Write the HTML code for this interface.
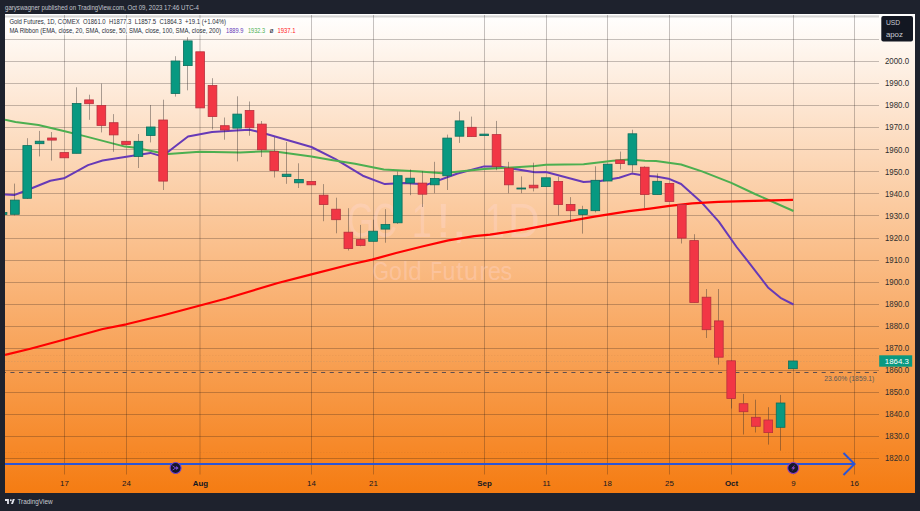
<!DOCTYPE html>
<html><head><meta charset="utf-8"><style>
html,body{margin:0;padding:0;width:920px;height:511px;overflow:hidden;background:#1e222d;}
svg text{font-family:"Liberation Sans", sans-serif;}
.box{position:absolute;}
</style></head><body>
<div style="position:relative;width:920px;height:511px">
<svg width="920" height="511" viewBox="0 0 920 511" style="position:absolute;left:0;top:0"><defs><linearGradient id="bg" x1="0" y1="0" x2="0" y2="1"><stop offset="0" stop-color="#ffffff"/><stop offset="1" stop-color="#f57c12"/></linearGradient><clipPath id="pc"><rect x="5" y="15" width="874" height="459.5"/></clipPath></defs><rect x="5" y="14" width="910" height="479" fill="url(#bg)"/><rect x="5" y="15.4" width="874" height="2.1" fill="rgba(0,0,0,0.16)"/><path d="M5 39.5H879M5 61.5H879M5 83.5H879M5 105.5H879M5 127.5H879M5 149.5H879M5 171.5H879M5 193.5H879M5 215.5H879M5 238.5H879M5 260.5H879M5 282.5H879M5 304.5H879M5 326.5H879M5 348.5H879M5 370.5H879M5 392.5H879M5 414.5H879M5 436.5H879M5 458.5H879M64.5 15V474.5M126.5 15V474.5M200.0 15V474.5M311.5 15V474.5M373.5 15V474.5M484.5 15V474.5M546.5 15V474.5M607.5 15V474.5M669.5 15V474.5M731.5 15V474.5M793.5 15V474.5M854.5 15V474.5" stroke="rgba(30,25,25,0.26)" stroke-width="1" fill="none"/><rect x="7" y="18" width="222" height="8.5" fill="rgba(255,255,255,0.55)"/><rect x="7" y="26.5" width="292" height="8.5" fill="rgba(255,255,255,0.55)"/><g clip-path="url(#pc)"><text transform="translate(347.56,237) scale(0.72,1)" font-size="48" fill="rgba(255,215,210,0.36)" font-family="Liberation Sans, sans-serif">G</text><text transform="translate(372.58,237) scale(0.71,1)" font-size="48" fill="rgba(255,215,210,0.36)" font-family="Liberation Sans, sans-serif">C</text><text transform="translate(412.00,237) scale(0.75,1)" font-size="48" fill="rgba(255,215,210,0.36)" font-family="Liberation Sans, sans-serif">1</text><text transform="translate(436.10,237) scale(1.1,1)" font-size="48" fill="rgba(255,215,210,0.36)" font-family="Liberation Sans, sans-serif">!</text><text transform="translate(451.20,237) scale(1.2,1)" font-size="48" fill="rgba(255,215,210,0.36)" font-family="Liberation Sans, sans-serif">,</text><text transform="translate(485.00,237) scale(0.75,1)" font-size="48" fill="rgba(255,215,210,0.36)" font-family="Liberation Sans, sans-serif">1</text><text transform="translate(508.36,237) scale(0.91,1)" font-size="48" fill="rgba(255,215,210,0.36)" font-family="Liberation Sans, sans-serif">D</text><text transform="translate(372.57,280.3) scale(0.84,1)" font-size="25.3" fill="rgba(255,215,210,0.36)" font-family="Liberation Sans, sans-serif">G</text><text transform="translate(389.09,280.3) scale(0.92,1)" font-size="25.3" fill="rgba(255,215,210,0.36)" font-family="Liberation Sans, sans-serif">o</text><text transform="translate(402.63,280.3) scale(1.0,1)" font-size="25.3" fill="rgba(255,215,210,0.36)" font-family="Liberation Sans, sans-serif">l</text><text transform="translate(408.16,280.3) scale(0.96,1)" font-size="25.3" fill="rgba(255,215,210,0.36)" font-family="Liberation Sans, sans-serif">d</text><text transform="translate(430.50,280.3) scale(0.76,1)" font-size="25.3" fill="rgba(255,215,210,0.36)" font-family="Liberation Sans, sans-serif">F</text><text transform="translate(442.39,280.3) scale(0.92,1)" font-size="25.3" fill="rgba(255,215,210,0.36)" font-family="Liberation Sans, sans-serif">u</text><text transform="translate(456.00,280.3) scale(1.05,1)" font-size="25.3" fill="rgba(255,215,210,0.36)" font-family="Liberation Sans, sans-serif">t</text><text transform="translate(464.03,280.3) scale(1.0,1)" font-size="25.3" fill="rgba(255,215,210,0.36)" font-family="Liberation Sans, sans-serif">u</text><text transform="translate(479.17,280.3) scale(1.08,1)" font-size="25.3" fill="rgba(255,215,210,0.36)" font-family="Liberation Sans, sans-serif">r</text><text transform="translate(487.89,280.3) scale(0.92,1)" font-size="25.3" fill="rgba(255,215,210,0.36)" font-family="Liberation Sans, sans-serif">e</text><text transform="translate(500.59,280.3) scale(0.92,1)" font-size="25.3" fill="rgba(255,215,210,0.36)" font-family="Liberation Sans, sans-serif">s</text><path d="M5 452.5H877M5 355.5H877" stroke="rgba(60,40,30,0.05)" stroke-width="1" stroke-dasharray="1.5 1.5"/><path d="M5 361.5H877" stroke="rgba(120,130,130,0.16)" stroke-width="1" stroke-dasharray="1.5 1.5"/><path d="M5 372.5H877" stroke="rgba(55,60,80,0.8)" stroke-width="1.1" stroke-dasharray="4.1 4.53" stroke-dashoffset="3.23"/><polyline points="5.0,194.5 14.7,194.9 22.4,192.0 50.3,180.8 63.9,178.3 88.0,165.1 102.6,160.5 120.0,157.8 150.4,152.9 158.7,155.4 168.2,151.8 188.0,136.5 212.0,131.9 240.0,130.2 249.7,129.8 256.0,131.3 266.4,134.0 311.4,147.0 335.5,159.1 362.8,175.7 384.8,184.1 404.7,183.0 427.6,184.4 456.9,173.7 484.1,166.4 498.8,166.4 535.0,172.2 546.0,172.0 583.6,182.0 600.4,181.0 619.2,177.8 631.8,173.6 645.0,175.7 656.0,176.6 668.5,178.7 681.1,184.0 702.0,202.8 718.8,221.7 736.6,247.0 747.0,260.1 768.0,287.4 780.5,297.8 793.5,304.5" fill="none" stroke="#673ab7" stroke-width="2" stroke-linejoin="round"/><polyline points="5.0,119.8 15.5,121.9 38.5,125.0 64.7,131.3 84.6,136.1 125.0,146.6 133.6,147.6 157.7,152.2 168.2,153.9 199.6,151.8 240.0,152.6 266.4,151.2 276.9,151.8 311.4,156.6 331.4,160.0 355.0,163.7 383.8,169.4 420.0,171.5 442.2,173.3 484.1,169.1 535.0,166.0 546.0,164.8 583.6,164.2 613.0,160.7 629.7,159.4 645.0,160.7 656.0,160.9 681.1,164.5 702.0,171.4 731.3,182.9 755.0,194.0 793.5,211.0" fill="none" stroke="#4caf50" stroke-width="2" stroke-linejoin="round"/><polyline points="5.0,355.0 30.4,348.7 63.7,339.8 102.8,329.0 126.3,324.3 161.5,315.8 185.0,309.5 226.3,298.5 277.9,283.0 311.4,274.4 350.2,264.5 372.0,259.6 396.1,253.0 422.2,246.5 448.3,240.4 474.3,236.1 490.0,234.7 524.8,229.4 559.6,222.8 594.3,216.7 629.1,211.2 650.0,208.6 669.6,205.9 692.2,203.3 718.3,201.9 744.3,201.2 793.0,199.8" fill="none" stroke="#ff0000" stroke-width="2.2" stroke-linejoin="round"/><rect x="2" y="212.5" width="1" height="2.0" fill="rgba(50,45,45,0.42)"/><rect x="-1.80" y="212.5" width="8.7" height="2.0" fill="#089981" stroke="#0b6e5c" stroke-width="0.8"/><rect x="14" y="183.6" width="1" height="31.8" fill="rgba(50,45,45,0.42)"/><rect x="10.55" y="200.1" width="8.7" height="14.2" fill="#089981" stroke="#0b6e5c" stroke-width="0.8"/><rect x="27" y="138.2" width="1" height="60.8" fill="rgba(50,45,45,0.42)"/><rect x="22.90" y="145.6" width="8.7" height="52.7" fill="#089981" stroke="#0b6e5c" stroke-width="0.8"/><rect x="39" y="130.9" width="1" height="25.5" fill="rgba(50,45,45,0.42)"/><rect x="35.25" y="141.2" width="8.7" height="2.5" fill="#089981" stroke="#0b6e5c" stroke-width="0.8"/><rect x="51" y="132.0" width="1" height="28.6" fill="rgba(50,45,45,0.42)"/><rect x="47.60" y="138.0" width="8.7" height="2.1" fill="#f23645" stroke="#b8303c" stroke-width="0.8"/><rect x="64" y="152.6" width="1" height="5.2" fill="rgba(50,45,45,0.42)"/><rect x="59.95" y="152.6" width="8.7" height="5.2" fill="#f23645" stroke="#b8303c" stroke-width="0.8"/><rect x="76" y="87.3" width="1" height="66.0" fill="rgba(50,45,45,0.42)"/><rect x="72.30" y="103.5" width="8.7" height="49.8" fill="#089981" stroke="#0b6e5c" stroke-width="0.8"/><rect x="89" y="94.7" width="1" height="25.1" fill="rgba(50,45,45,0.42)"/><rect x="84.65" y="99.9" width="8.7" height="3.8" fill="#f23645" stroke="#b8303c" stroke-width="0.8"/><rect x="101" y="83.6" width="1" height="48.8" fill="rgba(50,45,45,0.42)"/><rect x="97.00" y="105.5" width="8.7" height="19.9" fill="#f23645" stroke="#b8303c" stroke-width="0.8"/><rect x="113" y="114.1" width="1" height="37.7" fill="rgba(50,45,45,0.42)"/><rect x="109.35" y="122.7" width="8.7" height="12.2" fill="#f23645" stroke="#b8303c" stroke-width="0.8"/><rect x="126" y="141.3" width="1" height="3.2" fill="rgba(50,45,45,0.42)"/><rect x="121.70" y="141.3" width="8.7" height="3.2" fill="#f23645" stroke="#b8303c" stroke-width="0.8"/><rect x="138" y="134.0" width="1" height="34.0" fill="rgba(50,45,45,0.42)"/><rect x="134.05" y="141.3" width="8.7" height="15.1" fill="#089981" stroke="#0b6e5c" stroke-width="0.8"/><rect x="150" y="105.0" width="1" height="37.4" fill="rgba(50,45,45,0.42)"/><rect x="146.40" y="127.0" width="8.7" height="8.5" fill="#089981" stroke="#0b6e5c" stroke-width="0.8"/><rect x="163" y="99.7" width="1" height="90.3" fill="rgba(50,45,45,0.42)"/><rect x="158.75" y="120.0" width="8.7" height="61.1" fill="#f23645" stroke="#b8303c" stroke-width="0.8"/><rect x="175" y="56.2" width="1" height="40.4" fill="rgba(50,45,45,0.42)"/><rect x="171.10" y="61.0" width="8.7" height="32.5" fill="#089981" stroke="#0b6e5c" stroke-width="0.8"/><rect x="187" y="37.3" width="1" height="53.0" fill="rgba(50,45,45,0.42)"/><rect x="183.45" y="40.9" width="8.7" height="24.7" fill="#089981" stroke="#0b6e5c" stroke-width="0.8"/><rect x="200" y="51.8" width="1" height="56.1" fill="rgba(50,45,45,0.42)"/><rect x="195.80" y="51.8" width="8.7" height="56.1" fill="#f23645" stroke="#b8303c" stroke-width="0.8"/><rect x="212" y="78.2" width="1" height="51.3" fill="rgba(50,45,45,0.42)"/><rect x="208.15" y="85.5" width="8.7" height="31.0" fill="#f23645" stroke="#b8303c" stroke-width="0.8"/><rect x="224" y="117.5" width="1" height="22.2" fill="rgba(50,45,45,0.42)"/><rect x="220.50" y="125.7" width="8.7" height="4.3" fill="#f23645" stroke="#b8303c" stroke-width="0.8"/><rect x="237" y="96.3" width="1" height="65.1" fill="rgba(50,45,45,0.42)"/><rect x="232.85" y="114.1" width="8.7" height="14.0" fill="#089981" stroke="#0b6e5c" stroke-width="0.8"/><rect x="249" y="101.5" width="1" height="34.2" fill="rgba(50,45,45,0.42)"/><rect x="245.20" y="110.5" width="8.7" height="17.2" fill="#f23645" stroke="#b8303c" stroke-width="0.8"/><rect x="261" y="121.0" width="1" height="36.0" fill="rgba(50,45,45,0.42)"/><rect x="257.55" y="124.1" width="8.7" height="25.6" fill="#f23645" stroke="#b8303c" stroke-width="0.8"/><rect x="274" y="137.1" width="1" height="40.4" fill="rgba(50,45,45,0.42)"/><rect x="269.90" y="151.4" width="8.7" height="19.2" fill="#f23645" stroke="#b8303c" stroke-width="0.8"/><rect x="286" y="142.0" width="1" height="41.8" fill="rgba(50,45,45,0.42)"/><rect x="282.25" y="174.2" width="8.7" height="2.3" fill="#089981" stroke="#0b6e5c" stroke-width="0.8"/><rect x="298" y="163.3" width="1" height="24.7" fill="rgba(50,45,45,0.42)"/><rect x="294.60" y="179.4" width="8.7" height="3.4" fill="#089981" stroke="#0b6e5c" stroke-width="0.8"/><rect x="311" y="181.4" width="1" height="3.4" fill="rgba(50,45,45,0.42)"/><rect x="306.95" y="181.4" width="8.7" height="3.4" fill="#f23645" stroke="#b8303c" stroke-width="0.8"/><rect x="323" y="184.1" width="1" height="37.1" fill="rgba(50,45,45,0.42)"/><rect x="319.30" y="195.2" width="8.7" height="9.4" fill="#f23645" stroke="#b8303c" stroke-width="0.8"/><rect x="336" y="197.7" width="1" height="35.6" fill="rgba(50,45,45,0.42)"/><rect x="331.65" y="209.2" width="8.7" height="10.5" fill="#f23645" stroke="#b8303c" stroke-width="0.8"/><rect x="348" y="208.2" width="1" height="42.3" fill="rgba(50,45,45,0.42)"/><rect x="344.00" y="232.2" width="8.7" height="16.4" fill="#f23645" stroke="#b8303c" stroke-width="0.8"/><rect x="360" y="224.9" width="1" height="21.4" fill="rgba(50,45,45,0.42)"/><rect x="356.35" y="239.6" width="8.7" height="5.8" fill="#f23645" stroke="#b8303c" stroke-width="0.8"/><rect x="373" y="219.7" width="1" height="21.6" fill="rgba(50,45,45,0.42)"/><rect x="368.70" y="231.2" width="8.7" height="10.1" fill="#089981" stroke="#0b6e5c" stroke-width="0.8"/><rect x="385" y="209.2" width="1" height="33.5" fill="rgba(50,45,45,0.42)"/><rect x="381.05" y="224.5" width="8.7" height="4.6" fill="#089981" stroke="#0b6e5c" stroke-width="0.8"/><rect x="397" y="171.5" width="1" height="52.4" fill="rgba(50,45,45,0.42)"/><rect x="393.40" y="175.7" width="8.7" height="47.1" fill="#089981" stroke="#0b6e5c" stroke-width="0.8"/><rect x="410" y="169.4" width="1" height="25.8" fill="rgba(50,45,45,0.42)"/><rect x="405.75" y="178.2" width="8.7" height="4.8" fill="#089981" stroke="#0b6e5c" stroke-width="0.8"/><rect x="422" y="171.2" width="1" height="35.8" fill="rgba(50,45,45,0.42)"/><rect x="418.10" y="183.1" width="8.7" height="11.1" fill="#f23645" stroke="#b8303c" stroke-width="0.8"/><rect x="434" y="161.8" width="1" height="31.4" fill="rgba(50,45,45,0.42)"/><rect x="430.45" y="178.5" width="8.7" height="6.3" fill="#089981" stroke="#0b6e5c" stroke-width="0.8"/><rect x="447" y="134.6" width="1" height="55.4" fill="rgba(50,45,45,0.42)"/><rect x="442.80" y="138.1" width="8.7" height="37.7" fill="#089981" stroke="#0b6e5c" stroke-width="0.8"/><rect x="459" y="111.5" width="1" height="31.4" fill="rgba(50,45,45,0.42)"/><rect x="455.15" y="120.9" width="8.7" height="15.3" fill="#089981" stroke="#0b6e5c" stroke-width="0.8"/><rect x="471" y="116.6" width="1" height="20.0" fill="rgba(50,45,45,0.42)"/><rect x="467.50" y="127.3" width="8.7" height="9.3" fill="#f23645" stroke="#b8303c" stroke-width="0.8"/><rect x="484" y="134.1" width="1" height="1.5" fill="rgba(50,45,45,0.42)"/><rect x="479.85" y="134.1" width="8.7" height="1.5" fill="#089981" stroke="#0b6e5c" stroke-width="0.8"/><rect x="496" y="120.9" width="1" height="49.3" fill="rgba(50,45,45,0.42)"/><rect x="492.20" y="134.6" width="8.7" height="32.0" fill="#f23645" stroke="#b8303c" stroke-width="0.8"/><rect x="508" y="161.8" width="1" height="31.4" fill="rgba(50,45,45,0.42)"/><rect x="504.55" y="168.1" width="8.7" height="16.7" fill="#f23645" stroke="#b8303c" stroke-width="0.8"/><rect x="521" y="176.4" width="1" height="16.8" fill="rgba(50,45,45,0.42)"/><rect x="516.90" y="188.0" width="8.7" height="1.0" fill="#089981" stroke="#0b6e5c" stroke-width="0.8"/><rect x="533" y="162.7" width="1" height="28.7" fill="rgba(50,45,45,0.42)"/><rect x="529.25" y="185.2" width="8.7" height="2.7" fill="#f23645" stroke="#b8303c" stroke-width="0.8"/><rect x="545" y="177.8" width="1" height="8.8" fill="rgba(50,45,45,0.42)"/><rect x="541.60" y="177.8" width="8.7" height="8.8" fill="#089981" stroke="#0b6e5c" stroke-width="0.8"/><rect x="558" y="176.8" width="1" height="38.7" fill="rgba(50,45,45,0.42)"/><rect x="553.95" y="181.4" width="8.7" height="23.2" fill="#f23645" stroke="#b8303c" stroke-width="0.8"/><rect x="570" y="197.1" width="1" height="24.9" fill="rgba(50,45,45,0.42)"/><rect x="566.30" y="204.4" width="8.7" height="6.3" fill="#f23645" stroke="#b8303c" stroke-width="0.8"/><rect x="582" y="205.8" width="1" height="27.8" fill="rgba(50,45,45,0.42)"/><rect x="578.65" y="209.7" width="8.7" height="4.8" fill="#089981" stroke="#0b6e5c" stroke-width="0.8"/><rect x="595" y="166.3" width="1" height="46.1" fill="rgba(50,45,45,0.42)"/><rect x="591.00" y="180.3" width="8.7" height="30.4" fill="#089981" stroke="#0b6e5c" stroke-width="0.8"/><rect x="607" y="164.2" width="1" height="16.8" fill="rgba(50,45,45,0.42)"/><rect x="603.35" y="164.2" width="8.7" height="16.8" fill="#089981" stroke="#0b6e5c" stroke-width="0.8"/><rect x="620" y="151.6" width="1" height="17.9" fill="rgba(50,45,45,0.42)"/><rect x="615.70" y="160.0" width="8.7" height="3.6" fill="#f23645" stroke="#b8303c" stroke-width="0.8"/><rect x="632" y="129.7" width="1" height="42.9" fill="rgba(50,45,45,0.42)"/><rect x="628.05" y="133.8" width="8.7" height="31.0" fill="#089981" stroke="#0b6e5c" stroke-width="0.8"/><rect x="644" y="166.2" width="1" height="41.9" fill="rgba(50,45,45,0.42)"/><rect x="640.40" y="167.2" width="8.7" height="27.3" fill="#f23645" stroke="#b8303c" stroke-width="0.8"/><rect x="657" y="173.5" width="1" height="21.0" fill="rgba(50,45,45,0.42)"/><rect x="652.75" y="181.3" width="8.7" height="13.2" fill="#089981" stroke="#0b6e5c" stroke-width="0.8"/><rect x="669" y="183.4" width="1" height="18.0" fill="rgba(50,45,45,0.42)"/><rect x="665.10" y="183.4" width="8.7" height="18.0" fill="#f23645" stroke="#b8303c" stroke-width="0.8"/><rect x="681" y="204.5" width="1" height="39.0" fill="rgba(50,45,45,0.42)"/><rect x="677.45" y="204.5" width="8.7" height="33.6" fill="#f23645" stroke="#b8303c" stroke-width="0.8"/><rect x="694" y="234.2" width="1" height="68.2" fill="rgba(50,45,45,0.42)"/><rect x="689.80" y="240.6" width="8.7" height="61.8" fill="#f23645" stroke="#b8303c" stroke-width="0.8"/><rect x="706" y="289.0" width="1" height="49.0" fill="rgba(50,45,45,0.42)"/><rect x="702.15" y="297.2" width="8.7" height="32.5" fill="#f23645" stroke="#b8303c" stroke-width="0.8"/><rect x="718" y="289.0" width="1" height="75.6" fill="rgba(50,45,45,0.42)"/><rect x="714.50" y="320.9" width="8.7" height="36.3" fill="#f23645" stroke="#b8303c" stroke-width="0.8"/><rect x="731" y="360.0" width="1" height="48.5" fill="rgba(50,45,45,0.42)"/><rect x="726.85" y="360.8" width="8.7" height="37.7" fill="#f23645" stroke="#b8303c" stroke-width="0.8"/><rect x="743" y="393.9" width="1" height="40.6" fill="rgba(50,45,45,0.42)"/><rect x="739.20" y="403.7" width="8.7" height="8.0" fill="#f23645" stroke="#b8303c" stroke-width="0.8"/><rect x="755" y="399.7" width="1" height="32.8" fill="rgba(50,45,45,0.42)"/><rect x="751.55" y="417.3" width="8.7" height="9.0" fill="#f23645" stroke="#b8303c" stroke-width="0.8"/><rect x="768" y="407.2" width="1" height="37.4" fill="rgba(50,45,45,0.42)"/><rect x="763.90" y="420.0" width="8.7" height="12.6" fill="#f23645" stroke="#b8303c" stroke-width="0.8"/><rect x="780" y="394.9" width="1" height="55.8" fill="rgba(50,45,45,0.42)"/><rect x="776.25" y="403.0" width="8.7" height="24.3" fill="#089981" stroke="#0b6e5c" stroke-width="0.8"/><rect x="792" y="361.0" width="1" height="7.7" fill="rgba(50,45,45,0.42)"/><rect x="788.60" y="361.0" width="8.7" height="7.7" fill="#089981" stroke="#0b6e5c" stroke-width="0.8"/></g><path d="M5 464H854.5M843.5 453L854.5 464L843.5 475" stroke="#2b55d6" stroke-width="2" fill="none"/><circle cx="175.6" cy="468" r="5.5" fill="#15162b" stroke="#6a42d6" stroke-width="1.1"/><path d="M172.6 465.9L175.6 468L172.6 470.1" stroke="#7d52e6" stroke-width="0.9" fill="none"/><path d="M175.6 468H176.4" stroke="#7d52e6" stroke-width="0.9"/><path d="M176.2 465.9L178.6 468L176.2 470.1Z" fill="#7d52e6"/><circle cx="793.2" cy="468" r="5.5" fill="#15162b" stroke="#8a3ccc" stroke-width="1.1"/><path d="M795.2 464.6L791.3 468.6H793.4L791.4 471.6L795.3 467.5H793.2Z" fill="#a651e6"/></svg>
<svg width="920" height="511" style="position:absolute;left:0;top:0">
<text x="5" y="10" font-size="6.6" fill="#c3c6ce" font-weight="normal" text-anchor="start" textLength="194" lengthAdjust="spacingAndGlyphs">garyswagner published on TradingView.com, Oct 09, 2023 17:46 UTC-4</text><text x="9.4" y="24.1" font-size="6.6" fill="#2a2e39" font-weight="normal" text-anchor="start" textLength="216.6" lengthAdjust="spacingAndGlyphs">Gold Futures, 1D, COMEX&#160;&#160;O1861.0&#160;&#160;H1877.3&#160;&#160;L1857.5&#160;&#160;C1864.3&#160;&#160;+19.1 (+1.04%)</text><text x="9.4" y="32.6" font-size="6.6" fill="#2a2e39" font-weight="normal" text-anchor="start" textLength="211.6" lengthAdjust="spacingAndGlyphs">MA Ribbon (EMA, close, 20, SMA, close, 50, SMA, close, 100, SMA, close, 200)</text><text x="226" y="32.6" font-size="6.6" fill="#673ab7" font-weight="normal" text-anchor="start" textLength="17.5" lengthAdjust="spacingAndGlyphs">1889.9</text><text x="248" y="32.6" font-size="6.6" fill="#4caf50" font-weight="normal" text-anchor="start" textLength="17" lengthAdjust="spacingAndGlyphs">1932.3</text><text x="269.5" y="32.6" font-size="6.6" fill="#2a2e39" font-weight="normal" text-anchor="start" >ø</text><text x="277.5" y="32.6" font-size="6.6" fill="#ff1a1a" font-weight="normal" text-anchor="start" textLength="18" lengthAdjust="spacingAndGlyphs">1937.1</text><text x="885" y="64.3" font-size="8.2" fill="#2e2e2e" font-weight="normal" text-anchor="start" textLength="24" lengthAdjust="spacingAndGlyphs">2000.0</text><text x="885" y="86.35600000000001" font-size="8.2" fill="#2e2e2e" font-weight="normal" text-anchor="start" textLength="24" lengthAdjust="spacingAndGlyphs">1990.0</text><text x="885" y="108.412" font-size="8.2" fill="#2e2e2e" font-weight="normal" text-anchor="start" textLength="24" lengthAdjust="spacingAndGlyphs">1980.0</text><text x="885" y="130.46800000000002" font-size="8.2" fill="#2e2e2e" font-weight="normal" text-anchor="start" textLength="24" lengthAdjust="spacingAndGlyphs">1970.0</text><text x="885" y="152.524" font-size="8.2" fill="#2e2e2e" font-weight="normal" text-anchor="start" textLength="24" lengthAdjust="spacingAndGlyphs">1960.0</text><text x="885" y="174.58" font-size="8.2" fill="#2e2e2e" font-weight="normal" text-anchor="start" textLength="24" lengthAdjust="spacingAndGlyphs">1950.0</text><text x="885" y="196.63600000000002" font-size="8.2" fill="#2e2e2e" font-weight="normal" text-anchor="start" textLength="24" lengthAdjust="spacingAndGlyphs">1940.0</text><text x="885" y="218.692" font-size="8.2" fill="#2e2e2e" font-weight="normal" text-anchor="start" textLength="24" lengthAdjust="spacingAndGlyphs">1930.0</text><text x="885" y="240.74800000000002" font-size="8.2" fill="#2e2e2e" font-weight="normal" text-anchor="start" textLength="24" lengthAdjust="spacingAndGlyphs">1920.0</text><text x="885" y="262.804" font-size="8.2" fill="#2e2e2e" font-weight="normal" text-anchor="start" textLength="24" lengthAdjust="spacingAndGlyphs">1910.0</text><text x="885" y="284.85999999999996" font-size="8.2" fill="#2e2e2e" font-weight="normal" text-anchor="start" textLength="24" lengthAdjust="spacingAndGlyphs">1900.0</text><text x="885" y="306.916" font-size="8.2" fill="#2e2e2e" font-weight="normal" text-anchor="start" textLength="24" lengthAdjust="spacingAndGlyphs">1890.0</text><text x="885" y="328.972" font-size="8.2" fill="#2e2e2e" font-weight="normal" text-anchor="start" textLength="24" lengthAdjust="spacingAndGlyphs">1880.0</text><text x="885" y="351.02799999999996" font-size="8.2" fill="#2e2e2e" font-weight="normal" text-anchor="start" textLength="24" lengthAdjust="spacingAndGlyphs">1870.0</text><text x="885" y="373.08399999999995" font-size="8.2" fill="#2e2e2e" font-weight="normal" text-anchor="start" textLength="24" lengthAdjust="spacingAndGlyphs">1860.0</text><text x="885" y="395.13999999999993" font-size="8.2" fill="#2e2e2e" font-weight="normal" text-anchor="start" textLength="24" lengthAdjust="spacingAndGlyphs">1850.0</text><text x="885" y="417.19599999999997" font-size="8.2" fill="#2e2e2e" font-weight="normal" text-anchor="start" textLength="24" lengthAdjust="spacingAndGlyphs">1840.0</text><text x="885" y="439.25199999999995" font-size="8.2" fill="#2e2e2e" font-weight="normal" text-anchor="start" textLength="24" lengthAdjust="spacingAndGlyphs">1830.0</text><text x="885" y="461.30799999999994" font-size="8.2" fill="#2e2e2e" font-weight="normal" text-anchor="start" textLength="24" lengthAdjust="spacingAndGlyphs">1820.0</text><text x="64.5" y="486.1" font-size="7.9" fill="#131722" font-weight="normal" text-anchor="middle" >17</text><text x="126.5" y="486.1" font-size="7.9" fill="#131722" font-weight="normal" text-anchor="middle" >24</text><text x="200.5" y="486.1" font-size="7.9" fill="#131722" font-weight="bold" text-anchor="middle" >Aug</text><text x="311.5" y="486.1" font-size="7.9" fill="#131722" font-weight="normal" text-anchor="middle" >14</text><text x="373.5" y="486.1" font-size="7.9" fill="#131722" font-weight="normal" text-anchor="middle" >21</text><text x="484.5" y="486.1" font-size="7.9" fill="#131722" font-weight="bold" text-anchor="middle" >Sep</text><text x="546.5" y="486.1" font-size="7.9" fill="#131722" font-weight="normal" text-anchor="middle" >11</text><text x="607.5" y="486.1" font-size="7.9" fill="#131722" font-weight="normal" text-anchor="middle" >18</text><text x="669.5" y="486.1" font-size="7.9" fill="#131722" font-weight="normal" text-anchor="middle" >25</text><text x="731.5" y="486.1" font-size="7.9" fill="#131722" font-weight="bold" text-anchor="middle" >Oct</text><text x="793.5" y="486.1" font-size="7.9" fill="#131722" font-weight="normal" text-anchor="middle" >9</text><text x="854.5" y="486.1" font-size="7.9" fill="#131722" font-weight="normal" text-anchor="middle" >16</text><text x="874.3" y="381.1" font-size="7" fill="#5a5a5a" font-weight="normal" text-anchor="end" textLength="50" lengthAdjust="spacingAndGlyphs">23.60% (1859.1)</text><text x="17.4" y="503.7" font-size="6.6" fill="#c8cad0" font-weight="normal" text-anchor="start" textLength="35.2" lengthAdjust="spacingAndGlyphs">TradingView</text>
<rect x="881.3" y="16" width="31.7" height="25.6" rx="2" fill="#131722"/>
<text x="885.9" y="24.9" font-size="7.8" fill="#c9ccd4" textLength="14.2" lengthAdjust="spacingAndGlyphs">USD</text>
<text x="885.9" y="36.7" font-size="7.8" fill="#c9ccd4" textLength="17" lengthAdjust="spacingAndGlyphs">apoz</text>
<rect x="879.2" y="355.3" width="33" height="11.4" fill="#089981"/>
<text x="884.8" y="363.9" font-size="7.8" fill="#ffffff" textLength="24" lengthAdjust="spacingAndGlyphs">1864.3</text>
<path d="M5 499.1H8.9V504.1H7.1V500.9H5Z M12.8 499.1H14.8L13 504.1H11Z" fill="#e0e3eb"/><circle cx="10.8" cy="500.2" r="0.95" fill="#e0e3eb"/>
</svg>
</div>
</body></html>
